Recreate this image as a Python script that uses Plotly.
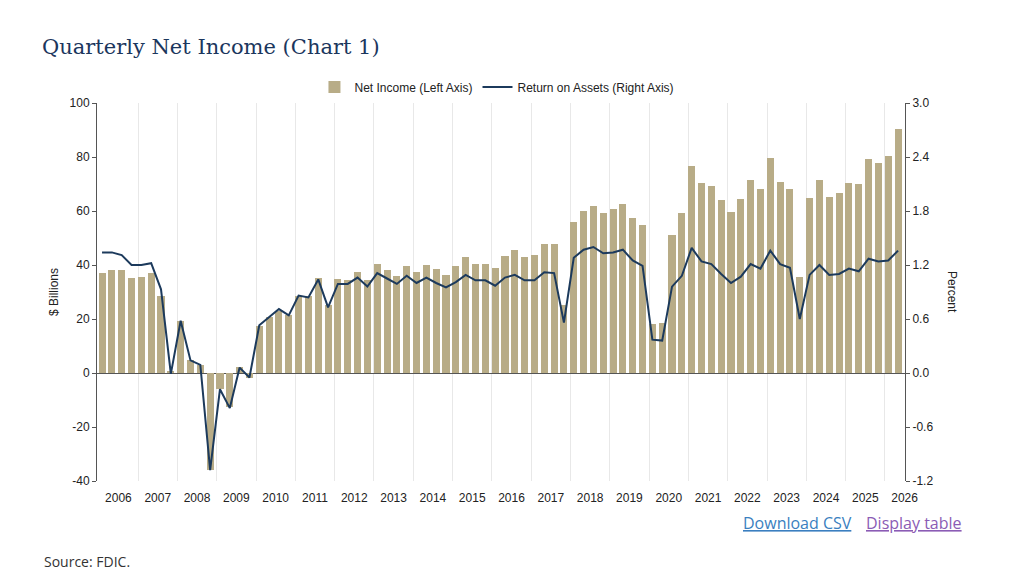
import plotly.graph_objects as go

# quarterly data, 2006Q1 .. 2026Q2
years = list(range(2006, 2027))
quarters = [f"{y}Q{q}" for y in years for q in range(1, 5)][:82]

net_income = [
    37.0, 38.0, 38.0, 35.3,   # 2006
    35.6, 37.0, 28.7, 0.6,    # 2007
    19.3, 4.7, 3.1, -35.8,    # 2008
    -5.9, -12.5, 2.1, -1.8,   # 2009
    17.3, 20.8, 23.0, 21.4,   # 2010
    28.5, 28.5, 35.3, 25.1,   # 2011
    34.7, 34.6, 37.4, 34.6,   # 2012
    40.2, 38.3, 35.9, 39.6,   # 2013
    37.3, 40.0, 38.4, 36.4,   # 2014
    39.8, 43.0, 40.2, 40.5,   # 2015
    38.9, 43.5, 45.6, 43.0,   # 2016
    43.8, 47.9, 47.7, 25.1,   # 2017
    55.8, 60.1, 61.9, 59.4,   # 2018
    60.6, 62.5, 57.3, 54.8,   # 2019
    18.3, 18.4, 51.1, 59.4,   # 2020
    76.7, 70.4, 69.4, 64.0,   # 2021
    59.8, 64.3, 71.6, 68.0,   # 2022
    79.8, 70.7, 68.3, 35.6,   # 2023
    64.7, 71.6, 65.3, 66.7,   # 2024
    70.5, 69.9, 79.3, 77.8,   # 2025
    80.4, 90.2,               # 2026
]

roa = [
    1.34, 1.34, 1.31, 1.20,
    1.20, 1.22, 0.93, -0.01,
    0.58, 0.14, 0.09, -1.08,
    -0.18, -0.39, 0.06, -0.05,
    0.53, 0.62, 0.71, 0.64,
    0.86, 0.84, 1.04, 0.73,
    0.99, 0.99, 1.06, 0.96,
    1.11, 1.05, 0.99, 1.08,
    1.00, 1.06, 1.00, 0.95,
    1.01, 1.09, 1.03, 1.03,
    0.97, 1.06, 1.09, 1.03,
    1.03, 1.12, 1.11, 0.56,
    1.28, 1.37, 1.40, 1.33,
    1.34, 1.37, 1.25, 1.19,
    0.37, 0.36, 0.96, 1.08,
    1.39, 1.24, 1.21, 1.10,
    1.00, 1.07, 1.21, 1.16,
    1.36, 1.21, 1.17, 0.60,
    1.09, 1.20, 1.09, 1.10,
    1.16, 1.13, 1.27, 1.24,
    1.25, 1.36,
]

# axis ticks (plain hyphen for negatives, as in the original)
left_ticks = [-40, -20, 0, 20, 40, 60, 80, 100]
left_labels = ["-40", "-20", "0", "20", "40", "60", "80", "100"]
right_ticks = [-1.2, -0.6, 0.0, 0.6, 1.2, 1.8, 2.4, 3.0]
right_labels = ["-1.2", "-0.6", "0.0", "0.6", "1.2", "1.8", "2.4", "3.0"]

# x position of a quarter: year + 1 month into the quarter
def qpos(label):
    y, q = label.split("Q")
    return int(y) + (3 * (int(q) - 1) + 1) / 12

xq = [qpos(s) for s in quarters]

TAN = "#b8ac87"
NAVY = "#1c3a5c"
AXIS = "#555555"

# page body has an 8px margin, so the figure is a bit smaller than the window
W, H = 1016, 573
fig = go.Figure()

fig.add_trace(go.Bar(
    x=xq, y=net_income,
    width=0.18,
    marker=dict(color=TAN, line=dict(width=0)),
    name="Net Income (Left Axis)",
))

fig.add_trace(go.Scatter(
    x=xq, y=roa,
    mode="lines",
    line=dict(color=NAVY, width=2),
    name="Return on Assets (Right Axis)",
    yaxis="y2",
))

tick_font = dict(family="Liberation Sans, Arial, sans-serif", size=12, color="#222222")

fig.update_layout(
    width=W, height=H,
    template="plotly_white",
    paper_bgcolor="white",
    plot_bgcolor="white",
    margin=dict(l=89, r=W - 89 - 808, t=95, b=H - 95 - 378),
    font=tick_font,
    title=dict(
        text="Quarterly Net Income (Chart 1)",
        font=dict(family="DejaVu Serif, serif", size=21, color="#1b365d"),
        x=34 / W, xanchor="left", xref="container",
        y=1 - 39 / H, yanchor="middle", yref="container",
    ),
    legend=dict(
        orientation="h",
        x=0.495, xanchor="center",
        y=(481 - 87) / 378, yanchor="middle",
        font=dict(family="Liberation Sans, Arial, sans-serif", size=12, color="#222222"),
        traceorder="normal",
    ),
    showlegend=True,
    xaxis=dict(
        range=[2005.955, 2026.51],
        tickvals=[y + 0.5 for y in years],
        ticktext=[str(y) for y in years],
        ticks="",
        ticklabelstandoff=8,
        showgrid=False,
        showline=False,
        zeroline=False,
        tickfont=tick_font,
        minor=dict(
            tickvals=years[1:],
            showgrid=True,
            gridcolor="#e8e8e8",
            gridwidth=1,
            ticks="",
        ),
    ),
    yaxis=dict(
        range=[-40, 100],
        tickvals=left_ticks,
        ticktext=left_labels,
        showgrid=False,
        showline=True,
        linecolor=AXIS,
        linewidth=1,
        ticks="outside",
        ticklen=4,
        tickcolor=AXIS,
        zeroline=True,
        zerolinecolor=AXIS,
        zerolinewidth=1,
        title=dict(text="$ Billions", font=tick_font, standoff=8),
        tickfont=tick_font,
    ),
    yaxis2=dict(
        range=[-1.2, 3.0],
        tickvals=right_ticks,
        ticktext=right_labels,
        overlaying="y",
        side="right",
        showgrid=False,
        showline=True,
        linecolor=AXIS,
        linewidth=1,
        ticks="outside",
        ticklen=4,
        tickcolor=AXIS,
        zeroline=False,
        tickfont=tick_font,
    ),
    bargap=0,
)

fig.add_annotation(
    text="Percent", textangle=90,
    x=(952 - 97) / 808, y=0.5, xref="paper", yref="paper",
    xanchor="center", yanchor="middle",
    showarrow=False, font=tick_font,
)

link_font = "Open Sans, Noto Sans, sans-serif"
fig.add_annotation(
    text="<u>Download CSV</u>",
    x=(797 - 97) / 808, y=(481 - 523) / 378, xref="paper", yref="paper",
    xanchor="center", yanchor="middle",
    showarrow=False, font=dict(family=link_font, size=16, color="#3b7fc0"),
)
fig.add_annotation(
    text="<u>Display table</u>",
    x=(914 - 97) / 808, y=(481 - 523) / 378, xref="paper", yref="paper",
    xanchor="center", yanchor="middle",
    showarrow=False, font=dict(family=link_font, size=16, color="#8b5cb5"),
)
fig.add_annotation(
    text="Source: FDIC.",
    x=(42 - 97) / 808, y=(481 - 561) / 378, xref="paper", yref="paper",
    xanchor="left", yanchor="middle", showarrow=False,
    font=dict(family=link_font, size=14, color="#333333"),
)

fig.write_html("out.html")
